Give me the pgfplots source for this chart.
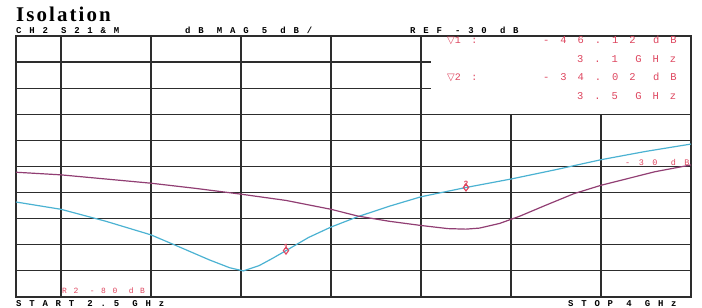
\documentclass[border=0pt]{standalone}
\usepackage{pgfplots}
\pgfplotsset{compat=1.18}
\usepackage{fontspec}
\setmainfont{Liberation Serif}
\newfontfamily\hpfont[LetterSpace=87]{Liberation Mono}
\newfontfamily\mkfont[LetterSpace=105]{Liberation Mono}
\newfontfamily\rfont[LetterSpace=83]{Liberation Mono}
\newfontfamily\reffont[LetterSpace=100]{Liberation Mono}
\newfontfamily\numfont{Liberation Mono}
\newfontfamily\symfont{DejaVu Sans}
\newfontfamily\titlefont[LetterSpace=10]{Liberation Serif}
\definecolor{cyanc}{RGB}{75,178,210}
\definecolor{purc}{RGB}{145,62,115}
\definecolor{mkc}{RGB}{222,70,95}
\definecolor{gridc}{RGB}{45,45,45}
\begin{document}
\begin{tikzpicture}
\begin{axis}[name=ax,
  scale only axis, width=675bp, height=261bp,
  xmin=2.5, xmax=4.0, ymin=-55, ymax=-5,
  xtick={2.6,2.8,3.0,3.2,3.4,3.6,3.8},
  ytick={-10,-15,-20,-25,-30,-35,-40,-45,-50},
  xticklabels={}, yticklabels={},
  major tick length=0pt,
  grid=major,
  major grid style={gridc, line width=1.2bp},
  axis line style={gridc, line width=1.4bp},
  clip=false,
]
\addplot[cyanc, line width=1.2bp] coordinates {
(2.50,-36.8) (2.60,-38.2) (2.70,-40.5) (2.80,-43.1) (2.86,-45.3) (2.93,-47.9) (2.975,-49.4) (3.005,-50.0) (3.04,-49.0) (3.07,-47.6) (3.10,-46.12) (3.15,-43.6) (3.20,-41.6) (3.26,-39.6) (3.33,-37.6) (3.40,-35.8) (3.50,-34.02) (3.60,-32.4) (3.70,-30.6) (3.80,-28.7) (3.90,-27.1) (4.00,-25.7)
};
\addplot[purc, line width=1.2bp] coordinates {
(2.50,-31.1) (2.60,-31.6) (2.70,-32.4) (2.80,-33.2) (2.90,-34.2) (3.00,-35.3) (3.10,-36.5) (3.20,-38.2) (3.26,-39.5) (3.33,-40.5) (3.40,-41.3) (3.46,-41.9) (3.50,-42.0) (3.53,-41.8) (3.575,-40.9) (3.62,-39.5) (3.675,-37.5) (3.74,-35.2) (3.80,-33.6) (3.86,-32.3) (3.92,-31.0) (4.00,-29.7)
};
\addplot[only marks, mark=diamond, mark size=3.5bp, mkc, line width=1.1bp,
  nodes near coords, point meta=explicit symbolic,
  every node near coord/.style={font=\numfont\bfseries\fontsize{8}{8}\selectfont, text=mkc, anchor=south, inner sep=0.5bp}]
  coordinates {(3.1,-46.12) [1] (3.5,-34.02) [2]};
% marker box
\fill[white] (axis cs:3.4,-5) rectangle (axis cs:4.0,-20);
\draw[gridc, line width=1.2bp] (axis cs:3.4,-5) -- (axis cs:3.4,-20);
\draw[gridc, line width=1.4bp] (axis cs:4.0,-5) -- (axis cs:4.0,-20);
\draw[gridc, line width=1.4bp] (axis cs:3.4,-5) -- (axis cs:4.0,-5);
\draw[gridc, line width=1.2bp] (axis cs:3.4,-20) -- (axis cs:4.0,-20);
\draw[gridc, line width=1.2bp] (axis cs:3.4,-10) -- (axis cs:3.422,-10);
\draw[gridc, line width=1.2bp] (axis cs:3.4,-15) -- (axis cs:3.422,-15);
\end{axis}
\path[use as bounding box] ([xshift=-16bp,yshift=-11bp]ax.south west) rectangle ([xshift=11bp,yshift=36bp]ax.north east);
\node[anchor=base west, inner sep=0, text depth=0pt] at ([xshift=0bp,yshift=14bp]ax.north west) {\titlefont\bfseries\fontsize{21}{21}\selectfont Isolation};
\tikzset{hdr/.style={anchor=base west, inner sep=0, text height=5.5bp, text depth=0pt}}
\node[hdr] at ([xshift=0bp,yshift=2bp]ax.north west) {\hpfont\bfseries\fontsize{9}{9}\selectfont CH2 S21\&M};
\node[hdr] at ([xshift=169bp,yshift=2bp]ax.north west) {\hpfont\bfseries\fontsize{9}{9}\selectfont dB MAG 5 dB/};
\node[hdr] at ([xshift=394bp,yshift=2bp]ax.north west) {\hpfont\bfseries\fontsize{9}{9}\selectfont REF -30 dB};
\node[anchor=base west, inner sep=0, mkc] at ([xshift=431bp,yshift=-8bp]ax.north west) {{\symfont\fontsize{10}{10}\selectfont ▽}{\mkfont\fontsize{10}{10}\selectfont 1:}};
\node[anchor=base west, inner sep=0, mkc] at ([xshift=527bp,yshift=-8bp]ax.north west) {\mkfont\fontsize{10.5}{10.5}\selectfont -46.12 dB};
\node[anchor=base west, inner sep=0, mkc] at ([xshift=561bp,yshift=-27bp]ax.north west) {\mkfont\fontsize{10.5}{10.5}\selectfont 3.1 GHz};
\node[anchor=base west, inner sep=0, mkc] at ([xshift=431bp,yshift=-45bp]ax.north west) {{\symfont\fontsize{10}{10}\selectfont ▽}{\mkfont\fontsize{10}{10}\selectfont 2:}};
\node[anchor=base west, inner sep=0, mkc] at ([xshift=527bp,yshift=-45bp]ax.north west) {\mkfont\fontsize{10.5}{10.5}\selectfont -34.02 dB};
\node[anchor=base west, inner sep=0, mkc] at ([xshift=561bp,yshift=-64bp]ax.north west) {\mkfont\fontsize{10.5}{10.5}\selectfont 3.5 GHz};
\node[anchor=base west, inner sep=0, mkc] at ([xshift=609bp,yshift=1bp]ax.west) {\reffont\fontsize{8.5}{8.5}\selectfont -30 dB};
\node[anchor=base west, inner sep=0, mkc] at ([xshift=46bp,yshift=4bp]ax.south west) {\rfont\fontsize{8}{8}\selectfont R2 -80 dB};
\node[anchor=base west, inner sep=0] at ([xshift=0bp,yshift=-9bp]ax.south west) {\hpfont\bfseries\fontsize{9}{9}\selectfont START  2.5 GHz};
\node[anchor=base west, inner sep=0] at ([xshift=552bp,yshift=-9bp]ax.south west) {\hpfont\bfseries\fontsize{9}{9}\selectfont STOP 4 GHz};
\end{tikzpicture}
\end{document}
